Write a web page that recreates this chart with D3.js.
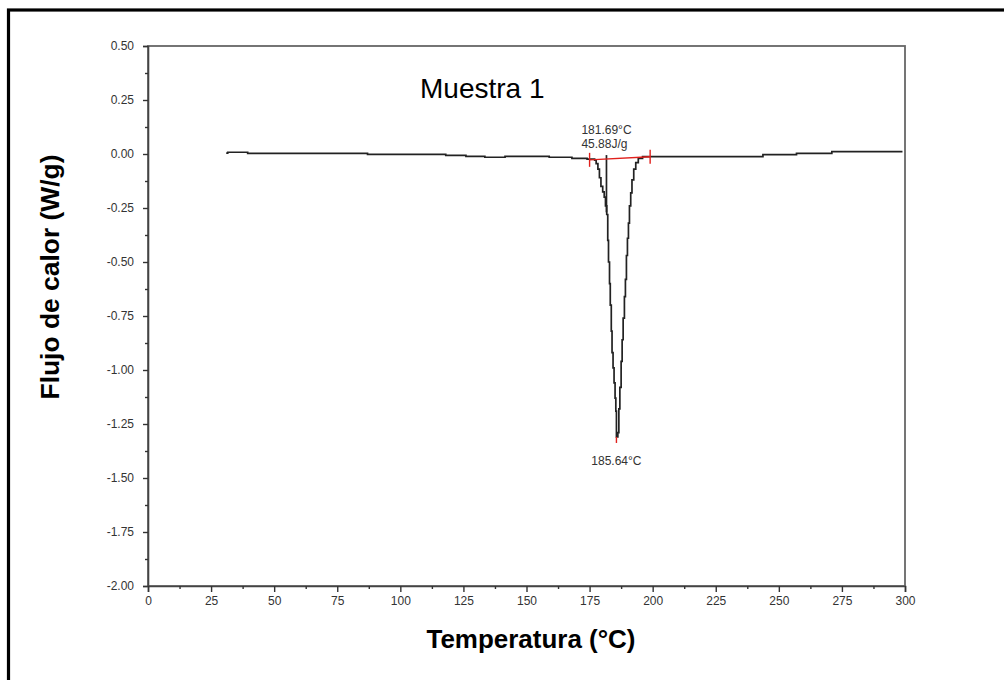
<!DOCTYPE html>
<html>
<head>
<meta charset="utf-8">
<script src="https://cdn.jsdelivr.net/npm/d3@7"></script>
<style>
  html, body { margin: 0; padding: 0; background: #fff; }
  svg { display: block; }
</style>
</head>
<body>
<svg id="chart" width="1004" height="680"></svg>
<script>
// DSC thermogram, sample 1: heat flow vs temperature
const temperature = [
  31.0, 31.6, 39.5, 87.0, 118.0, 126.0, 133.5, 141.5, 159.0, 168.0, 174.0,
  177.0, 177.6, 178.3, 178.9, 179.5, 180.2, 180.8, 181.3, 181.8, 182.2,
  182.5, 182.9, 183.2, 183.6, 183.9, 184.3, 184.7, 185.1, 185.4, 185.64,
  186.2, 186.6, 187.0, 187.5, 187.9, 188.3, 188.8, 189.2, 189.6, 190.0,
  190.4, 190.8, 191.3, 191.8, 192.5, 193.3, 194.3, 196.0, 243.7, 257.0,
  271.0, 299.0
];
const heatFlow = [
  0.004, 0.008, 0.003, -0.0015, -0.006, -0.011, -0.015, -0.011, -0.015, -0.020, -0.024,
  -0.028, -0.045, -0.070, -0.110, -0.150, -0.175, -0.200, -0.240, -0.280, -0.400,
  -0.500, -0.600, -0.700, -0.820, -0.920, -0.990, -1.060, -1.130, -1.190, -1.310,
  -1.290, -1.180, -1.080, -0.960, -0.860, -0.760, -0.660, -0.580, -0.470, -0.390,
  -0.320, -0.240, -0.180, -0.120, -0.070, -0.040, -0.020, -0.0125, -0.003, 0.003,
  0.011, 0.011
];

// Integration baseline and analysis results
const baselineT = [175, 199];
const baselineV = [-0.027, -0.013];
const onsetT = 181.69;
const onsetSpan = [-0.005, -0.27];
const peakT = 185.64;
const peakV = -1.31;
const enthalpy = "45.88J/g";

const xTicks = [0, 25, 50, 75, 100, 125, 150, 175, 200, 225, 250, 275, 300];
const yTicks = [0.5, 0.25, 0, -0.25, -0.5, -0.75, -1, -1.25, -1.5, -1.75, -2];
const xMinor = [12.5, 37.5, 62.5, 87.5, 112.5, 137.5, 162.5, 187.5, 212.5, 237.5, 262.5, 287.5];
const yMinor = [0.375, 0.125, -0.125, -0.375, -0.625, -0.875, -1.125, -1.375, -1.625, -1.875];

const title = "Muestra 1";
const xTitle = "Temperatura (°C)";
const yTitle = "Flujo de calor (W/g)";

const FONT = "'Liberation Sans', Arial, sans-serif";
const svg = d3.select("#chart");

const x = d3.scaleLinear().domain([0, 300]).range([148, 905]);
const y = d3.scaleLinear().domain([-2, 0.5]).range([586, 46]);

// outer border (runs off the right and bottom edges)
svg.append("rect")
  .attr("x", 8.5).attr("y", 10).attr("width", 1020).attr("height", 700)
  .attr("fill", "#fff").attr("stroke", "#000").attr("stroke-width", 3.2);

// plot frame
svg.append("rect")
  .attr("x", x(0)).attr("y", y(0.5))
  .attr("width", x(300) - x(0)).attr("height", y(-2) - y(0.5))
  .attr("fill", "none").attr("stroke", "#666").attr("stroke-width", 1.8);

const fmt = d => d.toFixed(2);

// y axis
svg.append("g").attr("transform", `translate(${x(0)},0)`)
  .call(d3.axisLeft(y).tickValues(yTicks).tickSize(5).tickPadding(9).tickFormat(fmt));
svg.append("g").attr("transform", `translate(${x(0)},0)`)
  .call(d3.axisLeft(y).tickValues(yMinor).tickSize(3).tickFormat(""))
  .call(g => g.select(".domain").remove());

// x axis
svg.append("g").attr("transform", `translate(0,${y(-2)})`)
  .call(d3.axisBottom(x).tickValues(xTicks).tickSize(6).tickPadding(4).tickFormat(d3.format("d")));
svg.append("g").attr("transform", `translate(0,${y(-2)})`)
  .call(d3.axisBottom(x).tickValues(xMinor).tickSize(3).tickFormat(""))
  .call(g => g.select(".domain").remove());

svg.selectAll(".domain").attr("stroke", "#444").attr("stroke-width", 1.6);
svg.selectAll(".tick line").attr("stroke", "#333").attr("stroke-width", 1.4);
svg.selectAll(".tick text")
  .attr("font-family", FONT).attr("font-size", 12).attr("fill", "#333");

// heat-flow curve
const pts = temperature.map((t, i) => [t, heatFlow[i]]);
svg.append("path")
  .datum(pts)
  .attr("fill", "none").attr("stroke", "#222").attr("stroke-width", 1.7)
  .attr("d", d3.line().x(d => x(d[0])).y(d => y(d[1])).curve(d3.curveStepAfter));

// onset construction line
svg.append("line")
  .attr("x1", x(onsetT)).attr("x2", x(onsetT))
  .attr("y1", y(onsetSpan[0])).attr("y2", y(onsetSpan[1]))
  .attr("stroke", "#222").attr("stroke-width", 1.7);

// integration baseline with end markers
svg.append("line")
  .attr("x1", x(baselineT[0])).attr("y1", y(baselineV[0]))
  .attr("x2", x(baselineT[1])).attr("y2", y(baselineV[1]))
  .attr("stroke", "#e0201c").attr("stroke-width", 1.4);
baselineT.forEach((t, i) => {
  svg.append("line")
    .attr("x1", x(t)).attr("x2", x(t))
    .attr("y1", y(baselineV[i]) - 7).attr("y2", y(baselineV[i]) + 7)
    .attr("stroke", "#e0201c").attr("stroke-width", 1.4);
});

// peak marker
svg.append("line")
  .attr("x1", x(peakT)).attr("x2", x(peakT))
  .attr("y1", y(peakV)).attr("y2", y(peakV) + 6)
  .attr("stroke", "#e0201c").attr("stroke-width", 1.4);

// annotations
const ann = (t, v, dy, txt) => svg.append("text")
  .attr("x", x(t)).attr("y", y(v) + dy)
  .attr("text-anchor", "middle")
  .attr("font-family", FONT).attr("font-size", 12).attr("fill", "#333")
  .text(txt);
ann(onsetT, 0, -20, `${onsetT.toFixed(2)}°C`);
ann(onsetT - 0.8, 0, -6, enthalpy);
ann(peakT, peakV, 28, `${peakT.toFixed(2)}°C`);

// title
svg.append("text")
  .attr("x", 420).attr("y", 98)
  .attr("font-family", FONT).attr("font-size", 28).attr("fill", "#000")
  .text(title);

// axis titles
svg.append("text")
  .attr("x", 531).attr("y", 648)
  .attr("text-anchor", "middle")
  .attr("font-family", FONT).attr("font-size", 26).attr("font-weight", "bold")
  .attr("textLength", 209).attr("lengthAdjust", "spacingAndGlyphs")
  .text(xTitle);

svg.append("text")
  .attr("transform", "translate(59,277) rotate(-90)")
  .attr("text-anchor", "middle")
  .attr("font-family", FONT).attr("font-size", 26).attr("font-weight", "bold")
  .attr("textLength", 245).attr("lengthAdjust", "spacingAndGlyphs")
  .text(yTitle);
</script>
</body>
</html>
